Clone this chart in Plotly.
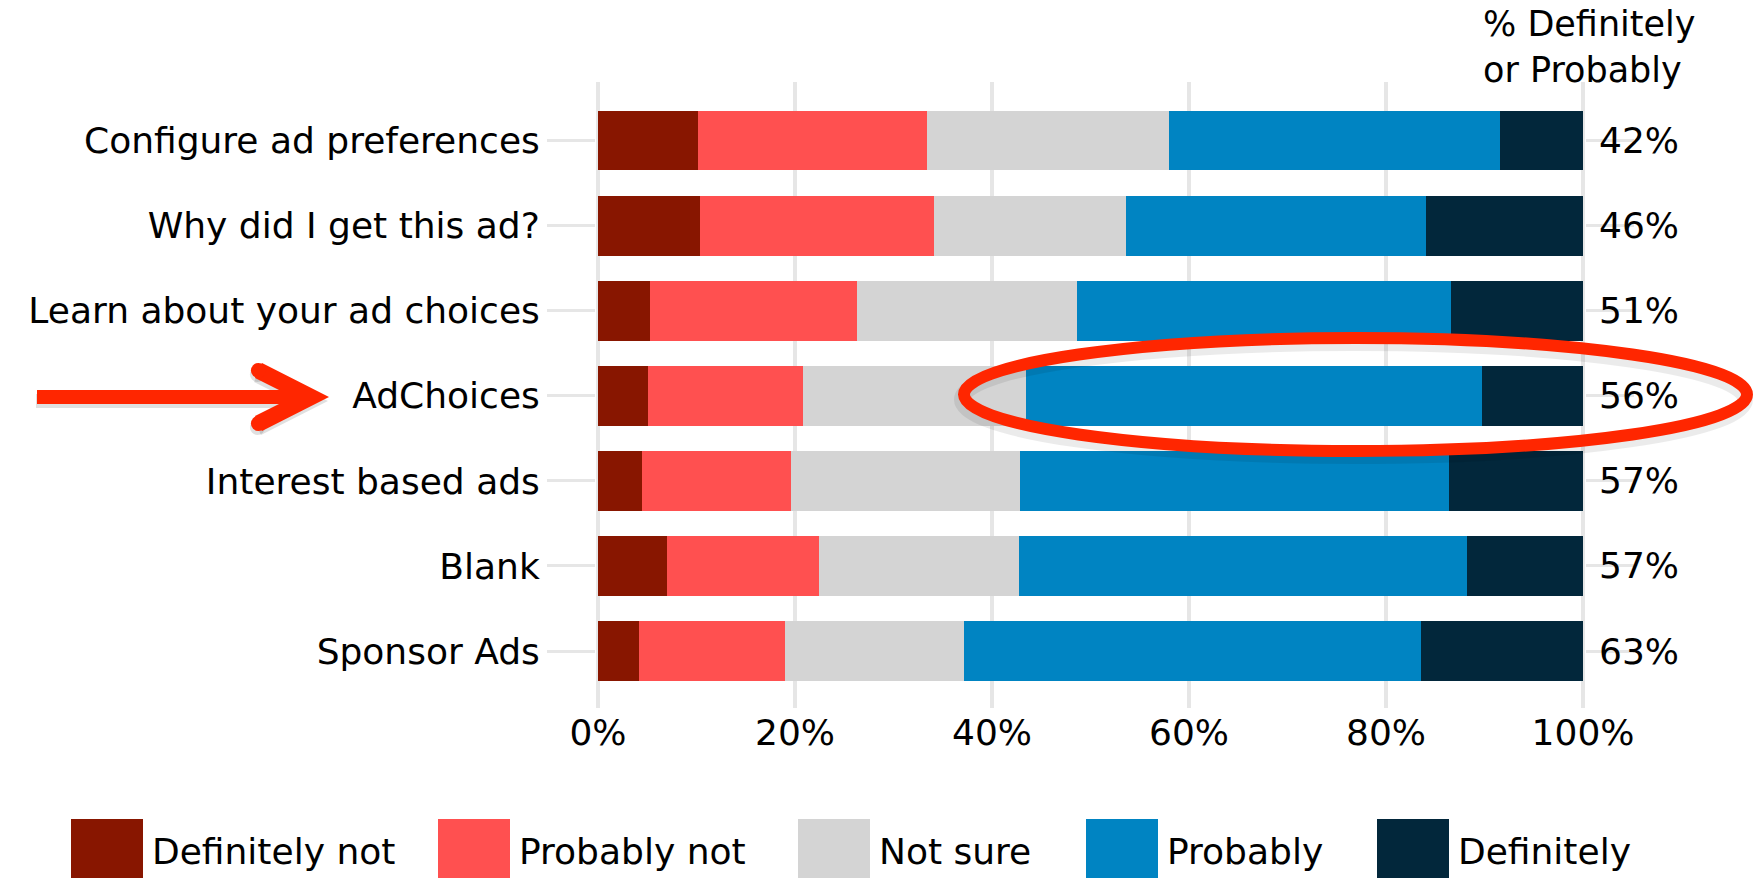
import plotly.graph_objects as go

# ---------------- data ----------------
categories = ["Configure ad preferences", "Why did I get this ad?", "Learn about your ad choices",
              "AdChoices", "Interest based ads", "Blank", "Sponsor Ads"]
series_names = ["Definitely not", "Probably not", "Not sure", "Probably", "Definitely"]
definitely_not = [10.2, 10.4, 5.3, 5.1, 4.5, 7.0, 4.2]
probably_not = [23.2, 23.7, 21.0, 15.7, 15.1, 15.4, 14.8]
not_sure = [24.6, 19.5, 22.3, 22.7, 23.2, 20.3, 18.2]
probably = [33.6, 30.5, 38.0, 46.2, 43.6, 45.5, 46.4]
definitely = [8.4, 15.9, 13.4, 10.3, 13.6, 11.8, 16.4]
pct_labels = ["42%", "46%", "51%", "56%", "57%", "57%", "63%"]
x_ticks = [0, 20, 40, 60, 80, 100]
x_tick_labels = ["0%", "20%", "40%", "60%", "80%", "100%"]
colors = ["#881600", "#ff5050", "#d4d4d4", "#0084c2", "#02273b"]
header_text = "% Definitely<br>or Probably"

# ---------------- geometry helpers ----------------
W, H = 1760, 878
ML, MR, MT, MB = 596, 175, 82, 170
PW, PH = W - ML - MR, H - MT - MB
FONT = "DejaVu Sans"
GRID = "#e6e6e6"


def px(xp):
    return (xp - ML) / PW


def py(yp):
    return (H - MB - yp) / PH


fig = go.Figure()
series_values = [definitely_not, probably_not, not_sure, probably, definitely]
for name, vals, col in zip(series_names, series_values, colors):
    fig.add_trace(go.Bar(
        y=categories, x=vals, name=name, orientation="h",
        marker=dict(color=col, line=dict(width=0)), width=0.7,
        showlegend=False, hoverinfo="x+y+name"))

shapes = []
annotations = []

# right-side percentage labels
for cat, lab in zip(categories, pct_labels):
    annotations.append(dict(x=px(1597), xref="paper", y=cat, yref="y", text=lab,
                            showarrow=False, xanchor="left", yanchor="middle",
                            font=dict(family=FONT, size=36, color="black")))

# header
annotations.append(dict(x=px(1481), xref="paper", y=py(2), yref="paper", text=header_text,
                        showarrow=False, xanchor="left", yanchor="top", align="left",
                        font=dict(family=FONT, size=35, color="black")))

# custom legend
leg_sw_x = [71, 438, 798, 1086, 1377]
for name, col, x0 in zip(series_names, colors, leg_sw_x):
    shapes.append(dict(type="rect", xref="paper", yref="paper",
                       x0=px(x0), x1=px(x0 + 72), y0=py(819), y1=py(880),
                       fillcolor=col, line=dict(width=0), layer="above"))
    annotations.append(dict(x=px(x0 + 79), xref="paper", y=py(852), yref="paper", text=name,
                            showarrow=False, xanchor="left", yanchor="middle",
                            font=dict(family=FONT, size=36, color="black")))

# ellipse highlight (with soft shadow)
for dx, dy, colr, w in [(-2, 5, "rgba(0,0,0,0.08)", 16), (0, 0, "#ff2600", 12)]:
    shapes.append(dict(type="circle", xref="paper", yref="paper",
                       x0=px(964 + dx), x1=px(1747 + dx), y0=py(451 + dy), y1=py(338 + dy),
                       line=dict(color=colr, width=w), fillcolor="rgba(0,0,0,0)", layer="above"))

# arrow (shaft + chevron head) with faint shadow
def arrow_path(ox, oy):
    shaft = (f"M {px(37+ox)},{py(390+oy)} L {px(305+ox)},{py(390+oy)} L {px(305+ox)},{py(404+oy)} "
             f"L {px(37+ox)},{py(404+oy)} Z")
    head_pts = [(262, 363), (329, 397), (262, 431), (255, 416), (293, 397), (255, 378)]
    head = "M " + " L ".join(f"{px(x+ox)},{py(y+oy)}" for x, y in head_pts) + " Z"
    return shaft, head

for ox, oy, colr in [(-1, 4, "rgba(0,0,0,0.12)"), (0, 0, "#ff2600")]:
    for pth in arrow_path(ox, oy):
        shapes.append(dict(type="path", xref="paper", yref="paper", path=pth,
                           fillcolor=colr, line=dict(width=0), layer="above"))
    for cx, cy in [(258.5, 370.5), (258.5, 423.5)]:
        r = 7.6
        shapes.append(dict(type="circle", xref="paper", yref="paper",
                           x0=px(cx - r + ox), x1=px(cx + r + ox), y0=py(cy + r + oy), y1=py(cy - r + oy),
                           fillcolor=colr, line=dict(width=0), layer="above"))

fig.update_layout(
    width=W, height=H,
    margin=dict(l=ML, r=MR, t=MT, b=MB, autoexpand=False),
    barmode="stack", bargap=0.3,
    plot_bgcolor="white", paper_bgcolor="white",
    font=dict(family=FONT, size=36, color="black"),
    showlegend=False,
    shapes=shapes, annotations=annotations,
    xaxis=dict(range=[-0.2, 100.2], tickvals=x_ticks, ticktext=x_tick_labels,
               showgrid=True, gridcolor=GRID, gridwidth=3.5,
               zeroline=True, zerolinecolor=GRID, zerolinewidth=3.5,
               showline=False, ticks="", tickfont=dict(family=FONT, size=36, color="black"),
               fixedrange=True),
    yaxis=dict(type="category", categoryorder="array", categoryarray=categories,
               range=[6.67, -0.69], showgrid=False, zeroline=False, showline=False,
               ticks="outside", ticklen=48, tickwidth=3, tickcolor=GRID, mirror="ticks",
               tickfont=dict(family=FONT, size=36, color="black"), ticklabelstandoff=0,
               fixedrange=True),
)

fig.write_html("out.html")
